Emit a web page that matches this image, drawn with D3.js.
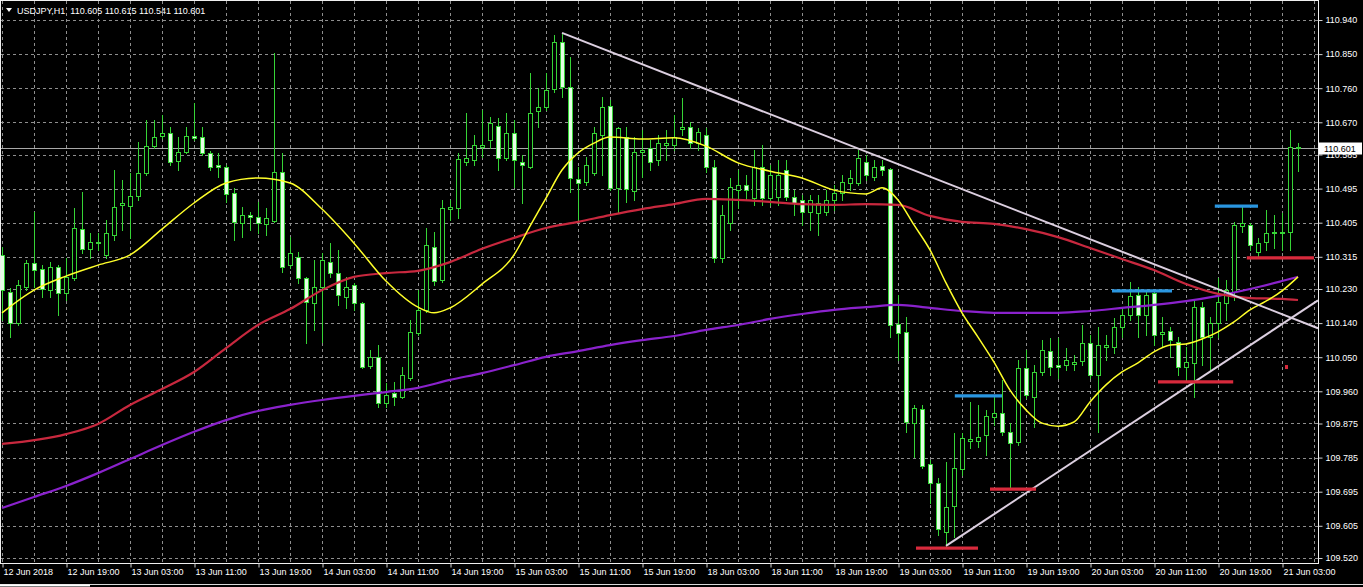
<!DOCTYPE html>
<html><head><meta charset="utf-8">
<script src="https://cdn.jsdelivr.net/npm/d3@7"></script>
<style>html,body{margin:0;padding:0;background:#000;overflow:hidden}svg{display:block}</style>
</head><body><svg id="c" width="1363" height="587"></svg>
<script>
// ---------- DATA ----------
const symbolTitle = "USDJPY,H1  110.605 110.615 110.541 110.601";
const open = [110.320,110.222,110.140,110.235,110.299,110.283,110.227,110.288,110.220,110.259,
110.388,110.336,110.354,110.320,110.373,110.452,110.449,110.476,110.536,110.607,
110.634,110.642,110.568,110.592,110.634,110.631,110.589,110.557,110.552,110.483,
110.404,110.425,110.420,110.402,110.410,110.539,110.293,110.314,110.259,110.193,
110.235,110.301,110.272,110.209,110.241,110.193,110.027,110.051,109.929,109.956,
109.945,109.995,110.114,110.175,110.341,110.254,110.441,110.444,110.565,110.570,
110.605,110.623,110.660,110.576,110.642,110.565,110.552,110.700,110.710,110.758,
110.882,110.763,110.520,110.512,110.536,110.637,110.713,110.497,110.631,110.489,
110.592,110.602,110.570,110.610,110.610,110.652,110.658,110.615,110.637,110.552,
110.312,110.404,110.491,110.505,110.470,110.552,110.470,110.473,110.544,110.473,
110.465,110.433,110.431,110.433,110.465,110.483,110.510,110.510,110.565,110.526,
110.555,110.547,110.138,110.117,109.876,109.913,109.768,109.718,109.589,109.657,
109.755,109.829,109.829,109.845,109.892,109.903,109.853,109.826,110.022,109.945,
110.011,110.066,110.029,110.029,110.032,110.040,110.088,110.003,110.077,110.077,
110.130,110.161,110.214,110.161,110.220,110.111,110.119,110.090,110.024,110.035,
110.182,110.103,110.140,110.193,110.222,110.396,110.399,110.328,110.354,110.378,
110.378,110.380,110.605];
const high = [110.341,110.233,110.254,110.307,110.433,110.293,110.301,110.293,110.312,110.444,
110.486,110.378,110.378,110.412,110.544,110.518,110.536,110.618,110.676,110.676,
110.689,110.658,110.631,110.658,110.721,110.658,110.594,110.589,110.557,110.497,
110.446,110.433,110.460,110.444,110.853,110.589,110.367,110.328,110.262,110.307,
110.325,110.351,110.333,110.262,110.246,110.196,110.069,110.082,109.982,109.985,
110.024,110.148,110.227,110.391,110.380,110.465,110.465,110.589,110.695,110.637,
110.702,110.684,110.681,110.695,110.676,110.584,110.800,110.761,110.800,110.900,
110.906,110.842,110.552,110.578,110.658,110.737,110.729,110.658,110.658,110.631,
110.650,110.623,110.637,110.650,110.689,110.734,110.671,110.655,110.655,110.570,
110.452,110.523,110.544,110.531,110.597,110.610,110.557,110.570,110.570,110.491,
110.478,110.478,110.478,110.491,110.505,110.531,110.544,110.597,110.584,110.570,
110.570,110.549,110.214,110.156,109.924,109.924,109.779,109.731,109.773,109.850,
109.850,109.932,109.924,109.911,109.950,109.990,109.876,110.043,110.069,110.029,
110.095,110.101,110.101,110.074,110.056,110.135,110.109,110.130,110.109,110.153,
110.180,110.248,110.235,110.227,110.227,110.156,110.130,110.103,110.077,110.201,
110.196,110.156,110.259,110.254,110.407,110.446,110.404,110.365,110.439,110.425,
110.431,110.650,110.615];
const low = [110.148,110.103,110.135,110.227,110.235,110.209,110.209,110.161,110.201,110.254,
110.325,110.312,110.333,110.312,110.359,110.386,110.365,110.465,110.531,110.602,
110.629,110.557,110.544,110.589,110.623,110.584,110.544,110.526,110.460,110.359,
110.367,110.386,110.378,110.373,110.407,110.275,110.285,110.246,110.088,110.122,
110.090,110.262,110.188,110.180,110.175,110.022,110.022,109.919,109.919,109.924,
109.942,109.990,110.109,110.169,110.241,110.248,110.412,110.417,110.557,110.557,
110.578,110.602,110.544,110.570,110.499,110.457,110.549,110.658,110.702,110.750,
110.737,110.486,110.407,110.505,110.531,110.531,110.491,110.431,110.460,110.465,
110.526,110.544,110.557,110.570,110.597,110.637,110.602,110.597,110.539,110.301,
110.301,110.386,110.444,110.465,110.452,110.452,110.452,110.452,110.465,110.425,
110.399,110.386,110.373,110.425,110.439,110.465,110.491,110.505,110.518,110.518,
110.531,110.103,110.043,109.853,109.787,109.758,109.665,109.581,109.549,109.575,
109.739,109.810,109.813,109.792,109.871,109.845,109.707,109.818,109.942,109.866,
110.003,110.003,109.995,110.016,110.016,110.029,109.995,109.853,110.043,110.061,
110.103,110.148,110.103,110.109,110.082,110.077,110.051,110.003,109.990,109.945,
110.029,110.016,110.103,110.148,110.201,110.380,110.333,110.312,110.333,110.338,
110.333,110.333,110.541];
const close = [110.227,110.140,110.241,110.299,110.280,110.230,110.288,110.220,110.262,110.391,
110.336,110.354,110.351,110.378,110.446,110.457,110.476,110.536,110.607,110.631,
110.642,110.565,110.592,110.634,110.629,110.589,110.552,110.552,110.481,110.407,
110.425,110.420,110.404,110.417,110.539,110.288,110.325,110.259,110.196,110.235,
110.307,110.272,110.214,110.235,110.193,110.024,110.051,109.929,109.950,109.945,
110.003,110.117,110.175,110.346,110.251,110.444,110.446,110.573,110.576,110.610,
110.610,110.668,110.576,110.642,110.570,110.557,110.695,110.710,110.755,110.882,
110.763,110.523,110.510,110.557,110.642,110.710,110.497,110.655,110.494,110.592,
110.597,110.565,110.615,110.615,110.631,110.658,110.615,110.644,110.552,110.312,
110.425,110.499,110.505,110.491,110.552,110.470,110.531,110.531,110.473,110.457,
110.433,110.465,110.457,110.465,110.483,110.512,110.523,110.576,110.531,110.552,
110.544,110.135,110.114,109.879,109.916,109.763,109.718,109.597,109.655,109.758,
109.837,109.834,109.839,109.895,109.903,109.853,109.824,110.022,109.950,110.011,
110.069,110.024,110.024,110.043,110.037,110.088,110.003,110.082,110.082,110.130,
110.161,110.212,110.161,110.214,110.109,110.117,110.095,110.024,110.037,110.182,
110.103,110.140,110.196,110.227,110.399,110.404,110.346,110.351,110.378,110.380,
110.380,110.605,110.601];

// moving averages (bar index, price)
const fastIdx = [0,4,8,12,16,20,24,28,32,36,40,44,48,52,54,56,60,64,66,68,70,72,74,76,80,84,88,92,96,100,104,108,110,112,114,116,118,120,122,124,126,128,130,132,134,136,138,140,142,144,146,148,150,152,154,156,158,160,162];
const fastMA = [110.167,110.227,110.264,110.293,110.320,110.388,110.457,110.510,110.523,110.510,
110.441,110.351,110.251,110.182,110.167,110.180,110.243,110.320,110.396,110.470,
110.544,110.589,110.615,110.631,110.626,110.629,110.607,110.563,110.541,110.523,
110.491,110.481,110.497,110.465,110.399,110.333,110.246,110.167,110.103,110.037,
109.963,109.911,109.876,109.868,109.879,109.932,109.977,110.011,110.035,110.064,
110.082,110.085,110.098,110.117,110.143,110.175,110.198,110.225,110.262];
const midIdx = [0,8,12,16,20,24,28,32,36,40,44,48,52,56,60,64,68,72,76,80,84,88,92,96,100,104,108,112,116,120,124,128,132,136,140,144,148,152,156,160,162];
const midMA = [109.821,109.847,109.874,109.924,109.966,110.011,110.074,110.135,110.177,110.227,
110.262,110.272,110.278,110.301,110.336,110.365,110.391,110.407,110.425,110.441,
110.454,110.468,110.465,110.460,110.454,110.452,110.454,110.452,110.423,110.407,
110.402,110.388,110.367,110.338,110.309,110.280,110.243,110.217,110.206,110.204,110.201];
const slowIdx = [0,4,8,12,16,20,24,28,32,36,40,44,48,52,56,60,64,68,72,76,80,84,88,92,96,100,104,108,112,116,120,124,128,132,136,140,144,148,152,156,160,162];
const slowMA = [109.652,109.681,109.710,109.744,109.781,109.818,109.853,109.884,109.908,109.924,
109.937,109.948,109.958,109.969,109.990,110.008,110.029,110.051,110.066,110.082,
110.095,110.106,110.122,110.135,110.151,110.164,110.175,110.182,110.188,110.180,
110.172,110.167,110.167,110.167,110.172,110.180,110.188,110.198,110.212,110.230,110.251,110.262];

// drawn objects (bar index / price)
const trendDown = [[70,110.906],[150,110.246]];
const trendUp = [[118,109.552],[150,109.998]];
const supportLevels = [[114.25,122,109.546],[123.5,129.25,109.702],[144.5,153.9,109.985],[155.6,164,110.312]];
const resistanceLevels = [[119.1,125,109.948],[138.75,146.25,110.225],[151.6,157,110.449]];
const markerPoint = [160.5,110.024];
const lastPrice = 110.601;

// axes
const priceTicks = [110.940,110.850,110.760,110.670,110.585,110.495,110.405,110.315,110.230,110.140,110.050,109.960,109.875,109.785,109.695,109.605,109.520];
const timeTickIdx = [0,8,16,24,32,40,48,56,64,72,80,88,96,104,112,120,128,136,144,152,160];
const timeTickLabels = ["12 Jun 2018","12 Jun 19:00","13 Jun 03:00","13 Jun 11:00","13 Jun 19:00","14 Jun 03:00","14 Jun 11:00","14 Jun 19:00","15 Jun 03:00","15 Jun 11:00","15 Jun 19:00","18 Jun 03:00","18 Jun 11:00","18 Jun 19:00","19 Jun 03:00","19 Jun 11:00","19 Jun 19:00","20 Jun 03:00","20 Jun 11:00","20 Jun 19:00","21 Jun 03:00"];

// ---------- DRAW ----------
const FONT = "'Liberation Sans', Arial, sans-serif";
const PR = 1318, PB = 563;
const svg = d3.select('#c');
const x = d3.scaleLinear().domain([0,162]).range([2,1298]);
const y = d3.scaleLinear().domain([109.520,110.940]).range([558,20]);
const cr = v => Math.round(v) + 0.5;

svg.append('rect').attr('width',1363).attr('height',587).attr('fill','#000');

// grid
const grid = svg.append('g').attr('stroke','#8e8e8e').attr('stroke-width',1).attr('stroke-dasharray','3,3');
priceTicks.forEach(v => grid.append('line').attr('x1',1).attr('x2',PR).attr('y1',cr(y(v))).attr('y2',cr(y(v))));
d3.range(0,165,4).forEach(i => { const xx = cr(x(i)); if (xx < PR) grid.append('line').attr('x1',xx).attr('x2',xx).attr('y1',1).attr('y2',PB); });

// last price line
svg.append('line').attr('x1',1).attr('x2',PR+2).attr('y1',cr(y(lastPrice))).attr('y2',cr(y(lastPrice))).attr('stroke','#a8a8a8');

// candles
const GREEN = '#36d436', BEARFILL = '#e6ffe6';
const cg = svg.append('g');
open.forEach((o,i) => {
  const c = close[i], cx = Math.round(x(i));
  cg.append('line').attr('x1',cx+0.5).attr('x2',cx+0.5)
    .attr('y1',Math.round(y(high[i]))).attr('y2',Math.round(y(low[i]))+1)
    .attr('stroke',GREEN);
  const top = Math.round(y(Math.max(o,c))), bot = Math.round(y(Math.min(o,c)));
  if (bot - top < 1) {
    cg.append('line').attr('x1',cx-2).attr('x2',cx+3).attr('y1',top+0.5).attr('y2',top+0.5).attr('stroke',GREEN);
  } else {
    cg.append('rect').attr('x',cx-1.5).attr('y',top+0.5).attr('width',4).attr('height',bot-top)
      .attr('fill', c >= o ? '#000' : BEARFILL).attr('stroke',GREEN);
  }
});

// moving averages
const maLine = d3.line().x(d => x(d[0])).y(d => y(d[1])).curve(d3.curveMonotoneX);
const zip = (a,b) => a.map((v,k) => [v,b[k]]);
svg.append('path').attr('d',maLine(zip(slowIdx,slowMA))).attr('fill','none').attr('stroke','#8a22cc').attr('stroke-width',2.2);
svg.append('path').attr('d',maLine(zip(midIdx,midMA))).attr('fill','none').attr('stroke','#c8283e').attr('stroke-width',2.2);
svg.append('path').attr('d',maLine(zip(fastIdx,fastMA))).attr('fill','none').attr('stroke','#ffff2a').attr('stroke-width',1.5);

// trend lines (rays to the right edge)
function ray(a){
  const [i1,p1] = a[0], [i2,p2] = a[1];
  const iE = x.invert(PR), pE = p1 + (p2-p1)/(i2-i1)*(iE-i1);
  svg.append('line').attr('x1',x(i1)).attr('y1',y(p1)).attr('x2',PR).attr('y2',y(pE))
    .attr('stroke','#dccfe0').attr('stroke-width',2);
}
ray(trendDown); ray(trendUp);

// horizontal levels
supportLevels.forEach(d => svg.append('line').attr('x1',x(d[0])).attr('x2',Math.min(x(d[1]),PR-4)).attr('y1',y(d[2])).attr('y2',y(d[2])).attr('stroke','#d82a3c').attr('stroke-width',3.2));
resistanceLevels.forEach(d => svg.append('line').attr('x1',x(d[0])).attr('x2',x(d[1])).attr('y1',y(d[2])).attr('y2',y(d[2])).attr('stroke','#2a96e0').attr('stroke-width',3.2));
svg.append('rect').attr('x',x(markerPoint[0])-1).attr('y',y(markerPoint[1])-2).attr('width',3).attr('height',4).attr('fill','#d82a3c');

// frame
svg.append('rect').attr('x',0.5).attr('y',0.5).attr('width',PR).attr('height',PB).attr('fill','none').attr('stroke','#f0f0f0');

// price axis
const ya = svg.append('g').attr('transform',`translate(${PR+0.5},0)`)
  .call(d3.axisRight(y).tickValues(priceTicks).tickFormat(d => d.toFixed(3)).tickSize(4).tickPadding(3));
ya.select('.domain').remove();
ya.selectAll('line').attr('stroke','#d0d0d0');
ya.selectAll('text').attr('fill','#ffffff').style('font-family',FONT).style('font-size','9px');

// last price label
const lp = svg.append('g');
lp.append('rect').attr('x',PR+1).attr('y',Math.round(y(lastPrice))-5.5).attr('width',43).attr('height',12).attr('fill','#ffffff');
lp.append('text').attr('x',PR+6).attr('y',y(lastPrice)+0.5).attr('dy','0.35em').text(lastPrice.toFixed(3))
  .attr('fill','#000').style('font-family',FONT).style('font-size','9px');

// time axis
const xa = svg.append('g').attr('transform',`translate(0,${PB+0.5})`)
  .call(d3.axisBottom(x).tickValues(timeTickIdx).tickFormat((d,k) => timeTickLabels[k]).tickSize(4).tickPadding(2));
xa.select('.domain').remove();
xa.selectAll('line').attr('stroke','#d0d0d0').attr('transform','translate(0.5,0)');
xa.selectAll('text').attr('fill','#ffffff').attr('text-anchor','start').attr('dx',1).attr('y',5)
  .style('font-family',FONT).style('font-size','9px');

// bottom strip
svg.append('line').attr('x1',0).attr('x2',1363).attr('y1',584.5).attr('y2',584.5).attr('stroke','#d8d8d8');
svg.append('line').attr('x1',0).attr('x2',90).attr('y1',585.5).attr('y2',585.5).attr('stroke','#ffffff').attr('stroke-width',2);

// title
svg.append('path').attr('d','M6,8 L12,8 L9,12 Z').attr('fill','#ffffff');
svg.append('text').attr('x',17).attr('y',11).attr('dy','0.35em').text(symbolTitle)
  .attr('fill','#ffffff').style('font-family',FONT).style('font-size','9px').attr('xml:space','preserve').style('white-space','pre');
</script></body></html>
